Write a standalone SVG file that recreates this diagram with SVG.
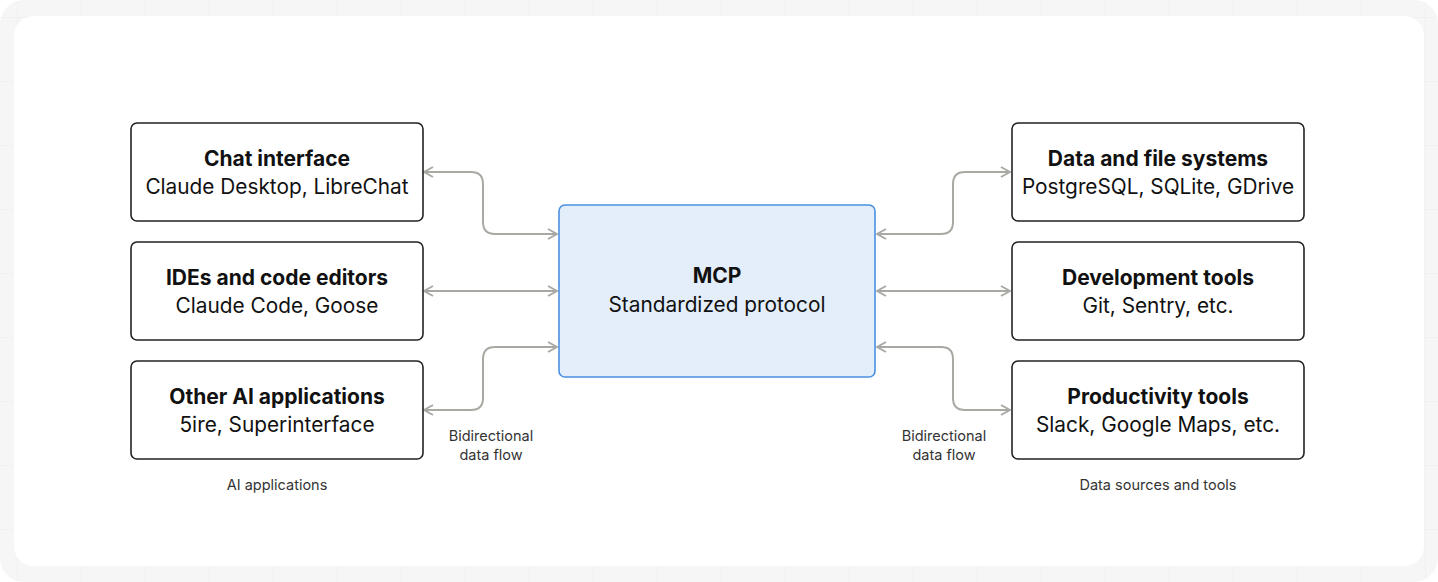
<svg xmlns="http://www.w3.org/2000/svg" width="1438" height="582" viewBox="0 0 1438 582">
<style>
.box{fill:#fff;stroke:#222;stroke-width:1.6}
.t{font-family:"Inter","Liberation Sans",sans-serif;text-anchor:middle;fill:#111}
.b{font-size:21px;font-weight:700}
.s{font-size:20.8px}
.sm{font-size:14.5px;fill:#333}
.c{fill:none;stroke:#a9a9a4;stroke-width:2;marker-start:url(#a);marker-end:url(#a)}
</style>
<defs>
<pattern id="g" width="64" height="64" patternUnits="userSpaceOnUse" x="17" y="17"><path d="M0 0H64M0 0V64" stroke="#ececec" fill="none"/></pattern>
<marker id="a" viewBox="0 0 12 12" refX="11" refY="6" markerWidth="12" markerHeight="12" markerUnits="userSpaceOnUse" orient="auto-start-reverse"><path d="M2 1L11 6L2 11" fill="none" stroke="#a9a9a4" stroke-width="2"/></marker>
</defs>
<rect x="0" y="0" width="1438" height="582" rx="24" fill="#f6f6f6"/>
<rect x="0" y="0" width="1438" height="582" rx="24" fill="url(#g)"/>
<rect x="14" y="16" width="1410" height="550" rx="20" fill="#fff"/>
<g id="connectors">
<path class="c" d="M424 172H471Q483 172 483 184V222Q483 234 495 234H557"/>
<path class="c" d="M424 291H557"/>
<path class="c" d="M424 410H471Q483 410 483 398V359Q483 347 495 347H557"/>
<path class="c" d="M877 234H941Q953 234 953 222V184Q953 172 965 172H1010"/>
<path class="c" d="M877 291H1010"/>
<path class="c" d="M877 347H941Q953 347 953 359V398Q953 410 965 410H1010"/>
</g>
<g id="mcp"><rect x="559" y="205" width="316" height="172" rx="6" fill="#e3eefa" stroke="#4a90e2" stroke-width="1.6"/>
<text class="t b" x="717" y="283">MCP</text><text class="t s" x="717" y="312">Standardized protocol</text></g>
<g id="chat"><rect class="box" x="131" y="123" width="292" height="98" rx="6"/><text class="t b" x="277" y="166">Chat interface</text><text class="t s" x="277" y="194">Claude Desktop, LibreChat</text></g>
<g id="ide"><rect class="box" x="131" y="242" width="292" height="98" rx="6"/><text class="t b" x="277" y="285">IDEs and code editors</text><text class="t s" x="277" y="313">Claude Code, Goose</text></g>
<g id="other"><rect class="box" x="131" y="361" width="292" height="98" rx="6"/><text class="t b" x="277" y="404">Other AI applications</text><text class="t s" x="277" y="432">5ire, Superinterface</text></g>
<g id="data"><rect class="box" x="1012" y="123" width="292" height="98" rx="6"/><text class="t b" x="1158" y="166">Data and file systems</text><text class="t s" x="1158" y="194">PostgreSQL, SQLite, GDrive</text></g>
<g id="dev"><rect class="box" x="1012" y="242" width="292" height="98" rx="6"/><text class="t b" x="1158" y="285">Development tools</text><text class="t s" x="1158" y="313">Git, Sentry, etc.</text></g>
<g id="prod"><rect class="box" x="1012" y="361" width="292" height="98" rx="6"/><text class="t b" x="1158" y="404">Productivity tools</text><text class="t s" x="1158" y="432">Slack, Google Maps, etc.</text></g>
<g id="labels">
<text class="t sm" x="491" y="441">Bidirectional</text><text class="t sm" x="491" y="460">data flow</text>
<text class="t sm" x="944" y="441">Bidirectional</text><text class="t sm" x="944" y="460">data flow</text>
<text class="t sm" x="277" y="490">AI applications</text>
<text class="t sm" x="1158" y="490">Data sources and tools</text>
</g>
</svg>
